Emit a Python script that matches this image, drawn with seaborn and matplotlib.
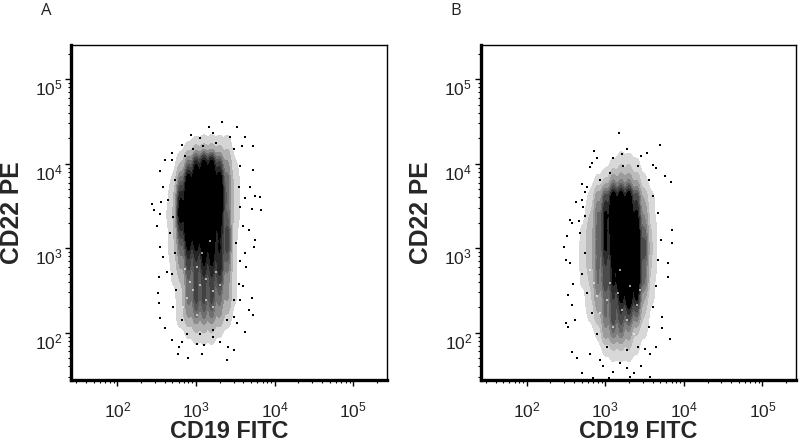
import numpy as np
import pandas as pd
import matplotlib
matplotlib.use("Agg")
import matplotlib.pyplot as plt
from matplotlib.colors import LinearSegmentedColormap
from matplotlib.ticker import LogLocator, NullFormatter
from matplotlib.transforms import ScaledTranslation
import seaborn as sns

sns.set_style("white")
plt.rcParams['font.family'] = ['Liberation Sans', 'DejaVu Sans']
plt.rcParams['mathtext.fontset'] = 'custom'
plt.rcParams['mathtext.rm'] = 'Liberation Sans'

panel_labels = ["A", "B"]
x_label = "CD19 FITC"
y_label = "CD22 PE"
tick_values = [1e2, 1e3, 1e4, 1e5]
tick_labels = [r"$\mathregular{10^{2}}$", r"$\mathregular{10^{3}}$", r"$\mathregular{10^{4}}$", r"$\mathregular{10^{5}}$"]

# Density (0 = empty, 10 = solid black); rows are log10 CD22, columns log10 CD19
log_x_bins = [2.5, 2.6, 2.7, 2.8, 2.9, 3.0, 3.1, 3.2, 3.3, 3.4, 3.5, 3.6, 3.7, 3.8]
log_y_bins = [4.4, 4.2, 4.0, 3.8, 3.6, 3.4, 3.2, 3.0, 2.8, 2.6, 2.4, 2.2, 2.0, 1.8, 1.6]
density_a = [
    [0, 0, 0, 0, 0, 0, 1, 1, 1, 1, 0, 0, 0, 0],
    [0, 0, 0, 1, 2, 3, 3, 3, 3, 3, 1, 1, 0, 0],
    [0, 1, 1, 3, 6, 8, 9, 9, 7, 5, 2, 1, 0, 0],
    [1, 1, 2, 6, 9, 10, 10, 10, 9, 6, 3, 1, 0, 0],
    [1, 1, 3, 8, 10, 10, 10, 10, 10, 6, 3, 1, 0, 0],
    [1, 2, 3, 9, 10, 10, 10, 10, 9, 6, 3, 1, 0, 0],
    [1, 1, 3, 7, 10, 10, 10, 10, 8, 7, 2, 1, 0, 0],
    [1, 1, 3, 6, 8, 8, 9, 9, 8, 7, 2, 1, 0, 0],
    [1, 1, 2, 5, 7, 7, 8, 8, 8, 6, 2, 1, 0, 0],
    [1, 1, 2, 3, 6, 7, 7, 7, 7, 5, 2, 1, 1, 0],
    [0, 1, 1, 3, 6, 7, 7, 7, 6, 5, 2, 1, 0, 0],
    [0, 1, 1, 3, 5, 6, 6, 6, 5, 3, 1, 1, 0, 0],
    [0, 1, 1, 1, 2, 3, 3, 3, 2, 1, 1, 0, 0, 0],
    [0, 0, 0, 1, 1, 1, 1, 1, 0, 1, 0, 0, 0, 0],
    [0, 0, 0, 0, 0, 0, 0, 0, 0, 0, 0, 0, 0, 0],
]
density_b = [
    [0, 0, 0, 0, 0, 0, 0, 0, 0, 0, 0, 0, 0, 0],
    [0, 0, 0, 0, 0, 0, 0, 1, 0, 1, 0, 0, 0, 0],
    [0, 0, 0, 0, 1, 1, 2, 3, 3, 2, 1, 1, 0, 0],
    [0, 0, 1, 1, 2, 3, 5, 5, 5, 4, 2, 1, 1, 0],
    [0, 0, 1, 2, 5, 7, 9, 9, 9, 7, 4, 2, 1, 0],
    [0, 1, 1, 3, 6, 8, 10, 10, 10, 8, 5, 2, 1, 0],
    [1, 1, 2, 4, 6, 8, 9, 10, 10, 9, 6, 3, 1, 0],
    [1, 1, 2, 4, 6, 8, 9, 10, 10, 9, 7, 3, 1, 1],
    [0, 1, 2, 4, 6, 7, 8, 10, 10, 9, 6, 3, 1, 0],
    [0, 1, 2, 3, 6, 7, 8, 10, 10, 9, 6, 2, 1, 0],
    [0, 1, 1, 3, 5, 6, 7, 8, 9, 8, 4, 2, 1, 0],
    [0, 0, 1, 2, 4, 6, 7, 7, 7, 6, 3, 1, 1, 0],
    [0, 0, 1, 1, 2, 5, 6, 6, 5, 3, 2, 1, 0, 0],
    [0, 0, 1, 1, 1, 2, 3, 3, 3, 2, 1, 0, 0, 0],
    [0, 0, 0, 0, 1, 1, 1, 1, 1, 1, 0, 0, 0, 0],
]

# Sparse outlying events read individually (log10 values)
sparse_a_x = [3.33, 3.17, 3.52, 2.94, 3.05, 3.22, 3.43, 3.62, 3.72, 2.82, 3.58, 2.69, 2.61, 2.54, 2.58, 3.72,
              3.69, 3.81, 3.75, 3.62, 3.83, 3.71, 2.44, 2.47, 2.56, 2.54, 2.50, 3.75, 3.74, 3.67, 2.54, 2.58,
              2.53, 2.63, 2.52, 2.53, 3.71, 3.72, 3.67, 3.62, 2.54, 2.61, 2.69, 2.77, 2.78, 2.90, 2.82, 3.07,
              3.10, 3.31, 3.39, 3.48, 3.40, 3.22, 3.01, 3.52, 3.48, 3.56, 3.60, 3.64, 3.62,
              2.69, 2.73, 2.64, 2.71, 2.67, 2.73, 2.69, 2.75, 2.71, 2.82, 2.88, 3.05, 3.22, 3.39,
              3.48, 3.54, 3.56, 3.51, 3.60, 3.56, 3.54, 3.56, 3.48, 3.26, 3.09, 2.96, 2.86]
sparse_a_y = [4.50, 4.44, 4.44, 4.34, 4.30, 4.36, 4.32, 4.32, 4.21, 4.22, 4.21, 4.13, 4.05, 3.91, 3.73, 3.93,
              3.73, 3.61, 3.62, 3.59, 3.45, 3.47, 3.52, 3.45, 3.55, 3.41, 3.26, 3.10, 3.02, 3.22, 3.02, 2.90,
              2.66, 2.72, 2.47, 2.35, 2.41, 2.21, 2.27, 2.01, 2.17, 2.05, 1.91, 1.75, 1.83, 1.70, 1.89, 1.75,
              1.85, 1.89, 1.68, 1.80, 1.83, 1.95, 1.87, 2.11, 2.19, 2.39, 2.55, 2.78, 2.94,
              4.05, 3.81, 3.57, 3.37, 3.18, 2.94, 2.70, 2.51, 2.31, 2.15, 1.99, 1.99, 2.03, 2.15,
              2.39, 2.58, 2.85, 3.06, 3.26, 3.49, 3.73, 3.97, 4.17, 4.25, 4.21, 4.17, 4.09]
sparse_b_x = [3.17, 3.69, 2.85, 2.89, 3.27, 3.21, 3.53, 3.45, 3.10, 2.83, 2.81, 3.61, 3.65, 3.76, 3.83, 2.70,
              2.63, 2.72, 2.74, 2.55, 2.57, 2.66, 3.85, 3.85, 2.51, 2.47, 2.50, 2.55, 3.80, 3.80, 2.59, 2.53,
              2.57, 2.50, 2.53, 2.61, 3.82, 3.72, 3.72, 2.57, 2.64, 2.70, 2.84, 3.05, 3.31, 3.57, 3.46, 2.97,
              3.10, 3.27, 3.36, 2.81, 3.57, 3.65, 3.50, 2.93, 3.19,
              2.76, 2.70, 2.74, 2.68, 2.74, 2.70, 2.76, 2.83, 2.89, 3.02, 3.27, 3.42,
              3.55, 3.61, 3.65, 3.67, 3.71, 3.67, 3.61, 3.55, 3.42, 3.23, 3.06, 2.93]
sparse_b_y = [4.37, 4.22, 4.15, 4.07, 4.17, 4.11, 4.13, 4.09, 4.07, 4.01, 3.96, 3.99, 3.95, 3.85, 3.79, 3.76,
              3.55, 3.49, 3.67, 3.34, 3.30, 3.32, 3.22, 3.06, 3.14, 3.02, 2.86, 2.82, 2.82, 2.66, 2.58, 2.45,
              2.33, 2.11, 2.07, 2.15, 1.92, 2.05, 2.19, 1.77, 1.70, 1.52, 1.46, 1.46, 1.48, 1.48, 1.60, 1.60,
              1.54, 1.58, 1.52, 1.75, 1.75, 1.83, 1.81, 1.68, 1.64,
              3.73, 3.57, 3.38, 3.18, 2.94, 2.70, 2.47, 2.23, 1.99, 1.83, 1.79, 1.83,
              2.07, 2.31, 2.55, 2.86, 3.10, 3.42, 3.62, 3.81, 3.97, 3.97, 3.89, 3.81]

# Pale gaps seen inside the dark part of each cloud (log10 values)
gap_a_x = [3.01, 2.86, 3.07, 3.18, 2.92, 3.13, 3.26, 2.96, 3.22, 3.05, 2.88, 3.13, 3.30, 2.84, 3.22, 3.01]
gap_a_y = [2.78, 2.76, 2.94, 3.08, 2.60, 2.64, 2.72, 2.51, 2.49, 2.57, 2.41, 2.39, 2.57, 2.31, 2.31, 2.21]
gap_b_x = [2.85, 3.19, 3.31, 3.02, 3.40, 3.21, 2.93, 3.27, 3.10, 3.44, 2.80, 3.36, 3.06, 3.16, 2.89]
gap_b_y = [2.59, 2.74, 2.55, 2.39, 2.33, 2.27, 2.23, 2.15, 2.07, 2.51, 2.74, 1.99, 2.59, 2.47, 2.43]

W, H = 800, 442
boxes = [(71, 387), (480.5, 796)]
TOP, BOTTOM = 45, 380
XLIM = (10 ** 1.41, 10 ** 5.428)
YLIM = (10 ** 1.44, 10 ** 5.406)
cloud_cmap = LinearSegmentedColormap.from_list("cloud", ["#e4e4e4", "#9a9a9a", "#555555", "#1c1c1c", "#000000", "#000000"])

fig = plt.figure(figsize=(W / 100, H / 100), dpi=100, facecolor="white")


def draw(box, density, sx, sy, gx, gy, letter):
    left, right = box
    width = right - left
    ax = fig.add_axes([left / W, 1 - BOTTOM / H, width / W, (BOTTOM - TOP) / H])
    frame = pd.DataFrame(density, index=log_y_bins, columns=log_x_bins).stack().reset_index()
    frame.columns = ["y", "x", "w"]
    frame = frame[frame.w > 0]
    sns.kdeplot(x=10 ** frame.x.to_numpy(), y=10 ** frame.y.to_numpy(),
                weights=frame.w.to_numpy() ** 2, log_scale=True, fill=True, cmap=cloud_cmap,
                levels=[0.02, 0.06, 0.11, 0.17, 0.24, 0.32, 0.42, 0.52, 1.0], bw_adjust=0.4, ax=ax, zorder=1)
    sns.scatterplot(x=10 ** np.array(gx), y=10 ** np.array(gy), s=2.5, color="white",
                    marker="s", linewidth=0, alpha=0.6, ax=ax, zorder=2)
    sns.scatterplot(x=10 ** np.array(sx), y=10 ** np.array(sy), s=3, color="black",
                    marker="s", linewidth=0, ax=ax, zorder=3)
    ax.set_xscale("log")
    ax.set_yscale("log")
    ax.set_xlim(XLIM)
    ax.set_ylim(YLIM)
    ax.set_xticks(tick_values, tick_labels)
    ax.set_yticks(tick_values, tick_labels)
    for axis in (ax.xaxis, ax.yaxis):
        axis.set_minor_locator(LogLocator(base=10, subs=np.arange(2, 10) / 1.0, numticks=12))
        axis.set_minor_formatter(NullFormatter())
    ax.tick_params(axis="both", which="major", length=4.5, width=1, labelsize=12.5,
                   left=True, bottom=True, color="black", labelcolor="#222222")
    ax.tick_params(axis="both", which="minor", length=2.3, width=0.8, left=True, bottom=True, color="black")
    ax.tick_params(axis="x", which="major", pad=10)
    ax.tick_params(axis="y", which="major", pad=1.5)
    shift = ScaledTranslation(0, -8 / 100, fig.dpi_scale_trans)
    for label in ax.get_yticklabels():
        label.set_transform(label.get_transform() + shift)
    for side, lw in (("left", 2.4), ("bottom", 2.4), ("top", 1), ("right", 1)):
        ax.spines[side].set_visible(True)
        ax.spines[side].set_linewidth(lw)
        ax.spines[side].set_color("black")
    ax.set_xlabel(x_label, fontsize=16.8, fontweight="bold")
    ax.xaxis.set_label_coords(0.5, -0.12, transform=ax.transAxes)
    ax.set_ylabel(y_label, fontsize=17.7, fontweight="bold")
    ax.yaxis.set_label_coords(-47 / width, (BOTTOM - 213) / (BOTTOM - TOP), transform=ax.transAxes)
    fig.text((left - 25) / W, 1 - 11 / H, letter, fontsize=12, family=["Open Sans", "DejaVu Sans"],
             ha="center", va="center", color="#222222")


draw(boxes[0], density_a, sparse_a_x, sparse_a_y, gap_a_x, gap_a_y, panel_labels[0])
draw(boxes[1], density_b, sparse_b_x, sparse_b_y, gap_b_x, gap_b_y, panel_labels[1])
fig.savefig("out.png", dpi=100)
